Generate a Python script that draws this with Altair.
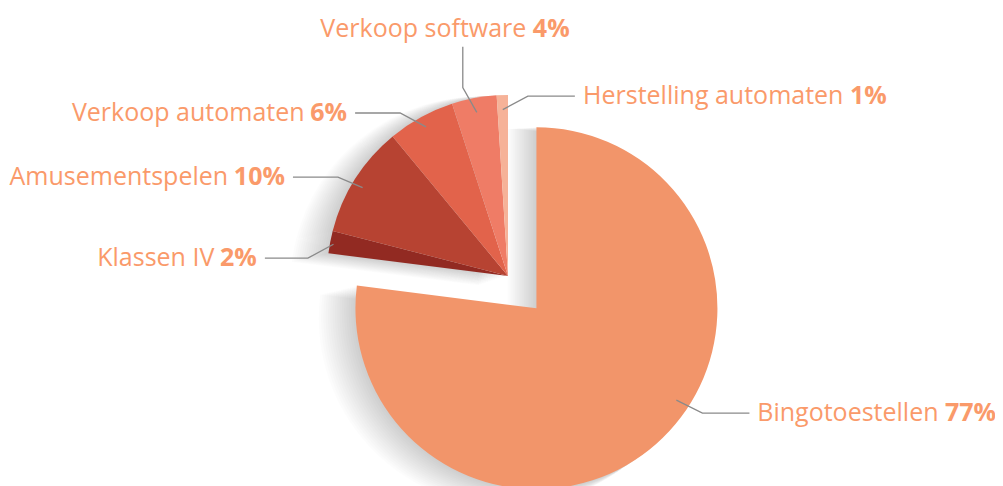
import math
import altair as alt
import pandas as pd

# ---------------- data ----------------
categories = ["Bingotoestellen", "Klassen IV", "Amusementspelen",
              "Verkoop automaten", "Verkoop software", "Herstelling automaten"]
shares = [77, 2, 10, 6, 4, 1]

# ---------------- style ----------------
colors = ["#F2956A", "#922A22", "#B74332", "#E2634B", "#EF7C66", "#F6B298"]
TEXT_COLOR = "#FA9A6A"
LEADER_COLOR = "#8A8A8A"
FONT = "Open Sans"
FS = 25

M = 8                      # page margin
W, H = 987, 478            # svg size
CX, CY = 508 - M, 276 - M  # pie centre (view coords)
R = 181
EXPLODE = {"Bingotoestellen": 43}

# leader layout per category:
# (anchor angle shift deg, anchor radius frac, elbow angle shift deg, elbow radius frac, leg side, leg length)
LAYOUT = {
    "Bingotoestellen":       (-15.3, 0.925, -16.3, 1.085, "right", 47),
    "Klassen IV":            (-0.5, 0.98, -5.7, 1.11, "left", 43),
    "Amusementspelen":       (-1.1, 0.94, -2.2, 1.087, "left", 45),
    "Verkoop automaten":     (0.0, 0.94, -4.7, 1.08, "left", 45),
    "Verkoop software":      (0.0, 0.92, -2.7, 1.07, "up", 41),
    "Herstelling automaten": (0.0, 0.92, 8.1, 1.0, "right", 47),
}

# approximate glyph advance widths (em) of the font, for text placement
WID = {"A": .66, "B": .635, "H": .742, "I": .29, "K": .6, "V": .575,
       "a": .556, "b": .613, "c": .476, "d": .613, "e": .561, "f": .339, "g": .548,
       "h": .614, "i": .253, "k": .525, "l": .253, "m": .93, "n": .614, "o": .604,
       "p": .613, "r": .408, "s": .477, "t": .353, "u": .614, "v": .501, "w": .778,
       " ": .26}
BWID = {"%": .87}


def tw(s, table, default=.572):
    return sum(table.get(c, default) for c in s) * FS


df = pd.DataFrame({
    "category": categories,
    "share": shares,
    "order": list(range(len(categories))),
    "explode": [EXPLODE.get(c, 0) for c in categories],
})

# ---------------- leaders and labels (derived from the shares) ----------------
total = sum(shares)
cum = 0
lead_rows, name_r, pct_l, pct_r = [], [], [], []
for cat, v in zip(categories, shares):
    a0 = cum / total * 2 * math.pi
    cum += v
    a1 = cum / total * 2 * math.pi
    am = (a0 + a1) / 2
    ex = EXPLODE.get(cat, 0)
    cx = CX + ex * math.sin(am)
    cy = CY - ex * math.cos(am)
    ash, arf, esh, erf, side, leg = LAYOUT[cat]
    aa = am + math.radians(ash)
    ea = am + math.radians(esh)
    ax, ay = cx + arf * R * math.sin(aa), cy - arf * R * math.cos(aa)
    exx, eyy = cx + erf * R * math.sin(ea), cy - erf * R * math.cos(ea)
    if side == "left":
        fx, fy = exx - leg, eyy
    elif side == "right":
        fx, fy = exx + leg, eyy
    else:
        fx, fy = exx, eyy - leg
    for i, (px, py) in enumerate([(ax, ay), (exx, eyy), (fx, fy)]):
        lead_rows.append({"category": cat, "i": i, "x": px, "y": py})
    pct = f"{v}%"
    nw = tw(cat, WID)
    pw = tw(pct, BWID)
    sp = WID[" "] * FS
    if side == "left":
        end = fx - 8
        pct_r.append({"x": end, "y": fy, "t": pct})
        name_r.append({"x": end - pw - sp, "y": fy, "t": cat})
    elif side == "right":
        split = fx + 8 + nw
        name_r.append({"x": split, "y": fy, "t": cat})
        pct_l.append({"x": split + sp, "y": fy, "t": pct})
    else:
        tot = nw + sp + pw
        split = fx - 18 - tot / 2 + nw
        ty = fy - 18
        name_r.append({"x": split, "y": ty, "t": cat})
        pct_l.append({"x": split + sp, "y": ty, "t": pct})

leaders = pd.DataFrame(lead_rows)

# ---------------- pie ----------------
base = (
    alt.Chart(df)
    .transform_joinaggregate(total="sum(share)")
    .transform_window(cum="sum(share)", sort=[alt.SortField("order")], frame=[None, 0])
    .transform_calculate(t0="(datum.cum - datum.share) / datum.total * 2 * PI")
    .transform_calculate(t1="datum.cum / datum.total * 2 * PI")
    .transform_calculate(tm="(datum.t0 + datum.t1) / 2")
    .transform_calculate(cx=f"{CX} + datum.explode * sin(datum.tm)")
    .transform_calculate(cy=f"{CY} - datum.explode * cos(datum.tm)")
)

# soft drop shadow (stack of faint offset copies)
shadow_layers = []
for k in range(1, 17):
    shadow_layers.append(
        base.transform_calculate(sx=f"datum.cx - {1.8 * k}")
        .transform_calculate(sy=f"datum.cy + {0.6 * k}")
        .mark_arc(radius=R + 0.5 * k, color="#000000", opacity=0.013)
        .encode(
            theta=alt.Theta("t0:Q", scale=None),
            theta2="t1:Q",
            x=alt.X("sx:Q", scale=None),
            y=alt.Y("sy:Q", scale=None),
        )
    )

pie = base.mark_arc(radius=R).encode(
    theta=alt.Theta("t0:Q", scale=None),
    theta2="t1:Q",
    x=alt.X("cx:Q", scale=None),
    y=alt.Y("cy:Q", scale=None),
    color=alt.Color("category:N", scale=alt.Scale(domain=categories, range=colors), legend=None),
)

lines = alt.Chart(leaders).mark_line(color=LEADER_COLOR, strokeWidth=1.3).encode(
    x=alt.X("x:Q", scale=None),
    y=alt.Y("y:Q", scale=None),
    detail="category:N",
    order="i:Q",
)


def text_layer(rows, align, bold):
    return alt.Chart(pd.DataFrame(rows)).mark_text(
        align=align, baseline="middle", font=FONT, fontSize=FS,
        fontWeight="bold" if bold else "normal", color=TEXT_COLOR,
    ).encode(x=alt.X("x:Q", scale=None), y=alt.Y("y:Q", scale=None), text="t:N")


chart = alt.layer(
    *shadow_layers, pie, lines,
    text_layer(name_r, "right", False),
    text_layer(pct_l, "left", True),
    text_layer(pct_r, "right", True),
).properties(
    width=W, height=H, padding=0, autosize=alt.AutoSizeParams(type="none")
).configure_view(stroke=None)

chart.save("out.html", embed_options={"renderer": "svg", "actions": False})
